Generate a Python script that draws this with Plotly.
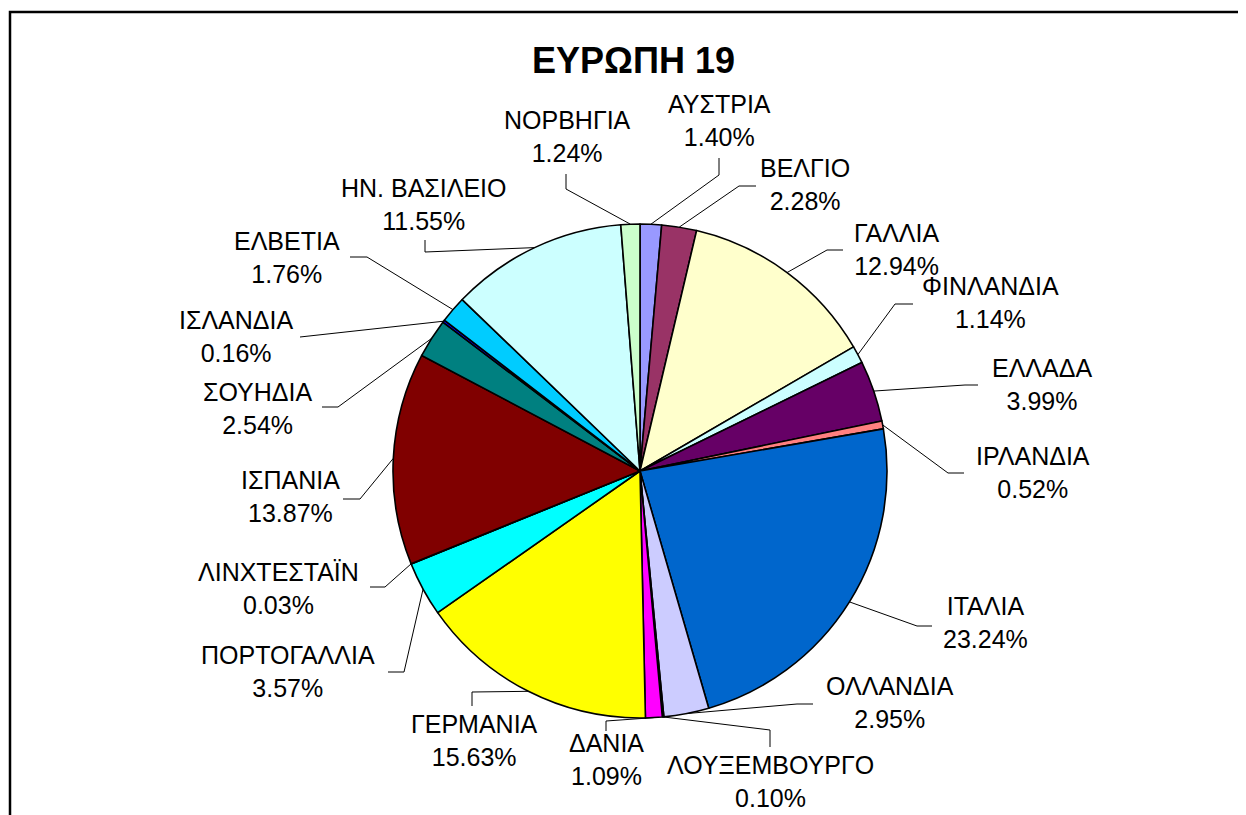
import math
import plotly.graph_objects as go

# ---------------- data ----------------
countries = ["ΑΥΣΤΡΙΑ", "ΒΕΛΓΙΟ", "ΓΑΛΛΙΑ", "ΦΙΝΛΑΝΔΙΑ", "ΕΛΛΑΔΑ", "ΙΡΛΑΝΔΙΑ",
             "ΙΤΑΛΙΑ", "ΟΛΛΑΝΔΙΑ", "ΛΟΥΞΕΜΒΟΥΡΓΟ", "ΔΑΝΙΑ", "ΓΕΡΜΑΝΙΑ",
             "ΠΟΡΤΟΓΑΛΛΙΑ", "ΛΙΝΧΤΕΣΤΑΪΝ", "ΙΣΠΑΝΙΑ", "ΣΟΥΗΔΙΑ", "ΙΣΛΑΝΔΙΑ",
             "ΕΛΒΕΤΙΑ", "ΗΝ. ΒΑΣΙΛΕΙΟ", "ΝΟΡΒΗΓΙΑ"]
shares = [1.40, 2.28, 12.94, 1.14, 3.99, 0.52,
          23.24, 2.95, 0.10, 1.09, 15.63,
          3.57, 0.03, 13.87, 2.54, 0.16,
          1.76, 11.55, 1.24]
colors = ["#9999FF", "#993366", "#FFFFCC", "#CCFFFF", "#660066", "#FF8080",
          "#0066CC", "#CCCCFF", "#000080", "#FF00FF", "#FFFF00",
          "#00FFFF", "#800080", "#800000", "#008080", "#0000FF",
          "#00CCFF", "#CCFFFF", "#CCFFCC"]
title_text = "ΕΥΡΩΠΗ 19"

# ---------------- layout (pixels, in page coordinates) ----------------
PAGE_OFF = 8                      # default body margin of the html page
W, H = 1246 - PAGE_OFF, 815 - PAGE_OFF
CX, CY, R = 640, 471, 247
FONT = "Liberation Sans, Arial, sans-serif"

# label centres (px)
label_pos = [(719, 121), (805, 184), (896, 249), (990, 302), (1042, 384), (1033, 472),
             (985, 622), (890, 702), (770, 781), (606, 759), (475, 740),
             (288, 671), (278, 588), (290, 497), (258, 408), (236, 336),
             (287, 257), (424, 204), (567, 137)]
# leader line bend / end points (px)
leader_pts = [[(719, 175), (719, 158)],
              [(739, 186), (756, 186)],
              [(827, 250), (843, 250)],
              [(895, 304), (913, 304)],
              [(965, 385), (978, 385)],
              [(948, 473), (964, 473)],
              [(917, 626), (932, 626)],
              [(797, 704), (813, 704)],
              [(770, 730), (770, 747)],
              [(606, 721), (606, 731)],
              [(472, 692), (472, 706)],
              [(404, 672), (388, 672)],
              [(385, 587), (370, 587)],
              [(360, 499), (343, 499)],
              [(338, 407), (322, 407)],
              [(300, 337)],
              [(367, 257), (350, 257)],
              [(425, 252), (425, 240)],
              [(566, 189), (566, 174)]]


def px(x):
    return (x - PAGE_OFF) / W


def py(y):
    return 1 - (y - PAGE_OFF) / H


fig = go.Figure()
fig.add_trace(go.Pie(
    labels=countries,
    values=shares,
    sort=False,
    direction="clockwise",
    rotation=0,
    marker=dict(colors=colors, line=dict(color="black", width=1.6)),
    textinfo="none",
    hoverinfo="label+percent",
    showlegend=False,
    domain=dict(x=[px(CX - R), px(CX + R)], y=[py(CY + R), py(CY - R)]),
))

total = sum(shares)
shapes = []
annotations = []
cum = 0.0
for name, v, (lx, ly), pts in zip(countries, shares, label_pos, leader_pts):
    mid = (cum + v / 2) / total * 2 * math.pi
    cum += v
    ex = CX + R * math.sin(mid)
    ey = CY - R * math.cos(mid)
    path = f"M {px(ex)},{py(ey)}"
    for (bx, by) in pts:
        path += f" L {px(bx)},{py(by)}"
    shapes.append(dict(type="path", path=path, xref="paper", yref="paper",
                       line=dict(color="black", width=1)))
    annotations.append(dict(text=f"{name}<br>{v:.2f}%", x=px(lx), y=py(ly),
                            xref="paper", yref="paper", showarrow=False,
                            xanchor="center", yanchor="middle", align="center",
                            font=dict(family=FONT, size=25, color="black")))

annotations.append(dict(text=f"<b>{title_text}</b>", x=px(633), y=py(60),
                        xref="paper", yref="paper", showarrow=False,
                        xanchor="center", yanchor="middle",
                        font=dict(family=FONT, size=36, color="black")))

# chart frame (extends beyond right / bottom edges as in the reference)
shapes.append(dict(type="rect", xref="paper", yref="paper",
                   x0=px(10), x1=px(1262), y0=py(832), y1=py(12),
                   line=dict(color="black", width=2.5)))

fig.update_layout(
    width=W, height=H,
    margin=dict(l=0, r=0, t=0, b=0),
    paper_bgcolor="white", plot_bgcolor="white",
    shapes=shapes, annotations=annotations,
    font=dict(family=FONT),
)

fig.write_html("out.html")
